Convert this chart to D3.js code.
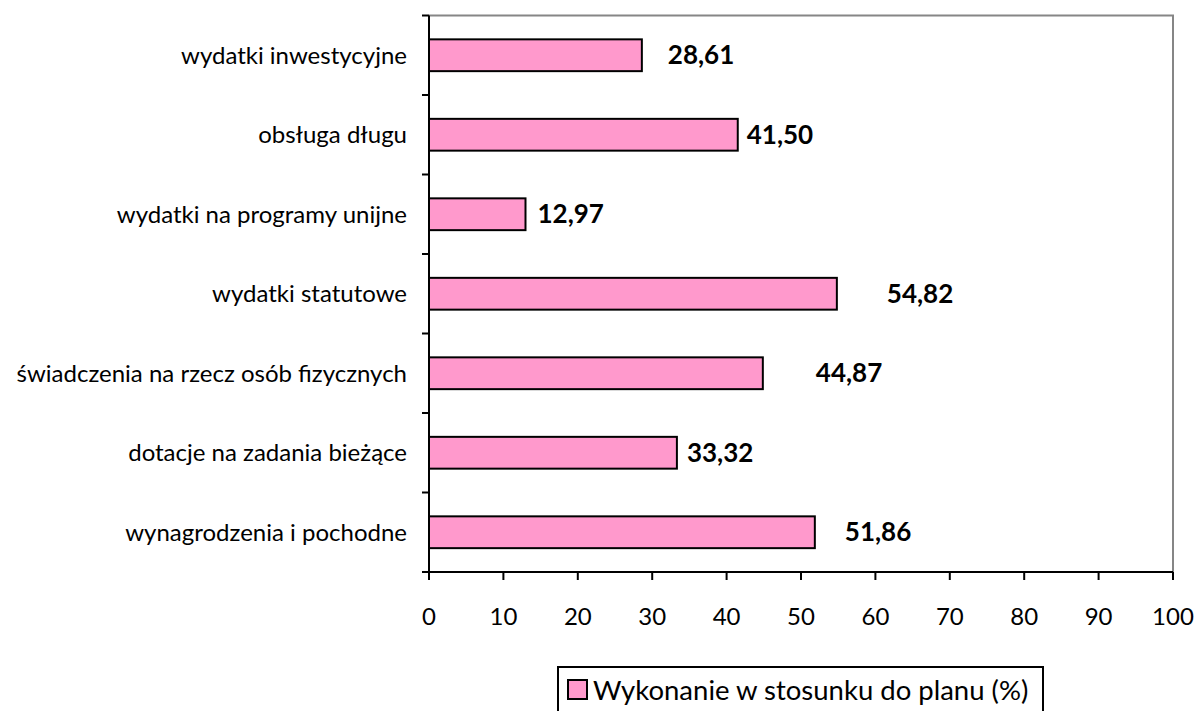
<!DOCTYPE html>
<html>
<head>
<meta charset="utf-8">
<script src="https://cdn.jsdelivr.net/npm/d3@7"></script>
<style>
  body { margin: 0; background: #fff; }
  svg { display: block; font-family: Lato, "Open Sans", sans-serif; }
  .cat { font-size: 24px; fill: #000; }
  .tick-label { font-size: 24px; fill: #000; }
  .val { font-size: 26px; font-weight: bold; fill: #000; }
  .legend-text { font-size: 27.5px; fill: #000; }
</style>
</head>
<body>
<svg width="1198" height="711"></svg>
<script>
// categories, top to bottom as drawn
const categories = [
  "wydatki inwestycyjne",
  "obsługa długu",
  "wydatki na programy unijne",
  "wydatki statutowe",
  "świadczenia na rzecz osób fizycznych",
  "dotacje na zadania bieżące",
  "wynagrodzenia i pochodne"
];
const values = [28.61, 41.50, 12.97, 54.82, 44.87, 33.32, 51.86];
const xTicks = [0, 10, 20, 30, 40, 50, 60, 70, 80, 90, 100];
const seriesName = "Wykonanie w stosunku do planu (%)";

// labels were dragged by hand in the original, keep their gap from bar end (px)
const labelGap = [26, 9, 12, 50, 53, 10, 30];

const svg = d3.select("svg");
const plotL = 429, plotR = 1173, plotT = 15.5, plotB = 572;

const x = d3.scaleLinear().domain([0, 100]).range([plotL, plotR]);
const y = d3.scaleBand().domain(categories).range([plotT, plotB]);
const barH = y.bandwidth() * 0.4;

const fmt = v => v.toFixed(2).replace(".", ",");

// plot border (top and right, grey)
svg.append("path")
  .attr("d", `M${plotL},${plotT}H${plotR}V${plotB}`)
  .attr("fill", "none")
  .attr("stroke", "#868686")
  .attr("stroke-width", 2);

// bars
svg.append("g").selectAll("rect")
  .data(values)
  .enter().append("rect")
  .attr("x", x(0))
  .attr("y", (d, i) => y(categories[i]) + (y.bandwidth() - barH) / 2)
  .attr("width", d => x(d) - x(0))
  .attr("height", barH)
  .attr("fill", "#FF99CC")
  .attr("stroke", "#000")
  .attr("stroke-width", 2);

// value labels
svg.append("g").selectAll("text")
  .data(values)
  .enter().append("text")
  .attr("class", "val")
  .attr("x", (d, i) => x(d) + labelGap[i])
  .attr("y", (d, i) => y(categories[i]) + y.bandwidth() / 2)
  .attr("dy", "0.35em")
  .text(fmt);

// y axis
const yAxis = svg.append("g");
yAxis.append("line")
  .attr("x1", plotL).attr("x2", plotL)
  .attr("y1", plotT).attr("y2", plotB)
  .attr("stroke", "#000").attr("stroke-width", 2);
const yTickPos = categories.map(c => y(c)).concat([plotB]);
yAxis.selectAll(".yt")
  .data(yTickPos)
  .enter().append("line")
  .attr("x1", plotL - 7).attr("x2", plotL)
  .attr("y1", d => d).attr("y2", d => d)
  .attr("stroke", "#000").attr("stroke-width", 2);
yAxis.selectAll(".cat")
  .data(categories)
  .enter().append("text")
  .attr("class", "cat")
  .attr("x", plotL - 22)
  .attr("y", d => y(d) + y.bandwidth() / 2)
  .attr("dy", "0.35em")
  .attr("text-anchor", "end")
  .text(d => d);

// x axis
const xAxis = svg.append("g");
xAxis.append("line")
  .attr("x1", plotL).attr("x2", plotR)
  .attr("y1", plotB).attr("y2", plotB)
  .attr("stroke", "#000").attr("stroke-width", 2);
xAxis.selectAll(".xt")
  .data(xTicks)
  .enter().append("line")
  .attr("x1", d => x(d)).attr("x2", d => x(d))
  .attr("y1", plotB).attr("y2", plotB + 8)
  .attr("stroke", "#000").attr("stroke-width", 2);
xAxis.selectAll(".tick-label")
  .data(xTicks)
  .enter().append("text")
  .attr("class", "tick-label")
  .attr("x", d => x(d))
  .attr("y", 617)
  .attr("dy", "0.35em")
  .attr("text-anchor", "middle")
  .text(d => d);

// legend
const lg = svg.append("g").attr("transform", "translate(558,667)");
lg.append("rect")
  .attr("x", 0).attr("y", 0)
  .attr("width", 485).attr("height", 60)
  .attr("fill", "#fff")
  .attr("stroke", "#000").attr("stroke-width", 2);
lg.append("rect")
  .attr("x", 10).attr("y", 13)
  .attr("width", 19).attr("height", 19)
  .attr("fill", "#FF99CC")
  .attr("stroke", "#000").attr("stroke-width", 2);
lg.append("text")
  .attr("class", "legend-text")
  .attr("x", 35)
  .attr("y", 23)
  .attr("dy", "0.35em")
  .text(seriesName);
</script>
</body>
</html>
